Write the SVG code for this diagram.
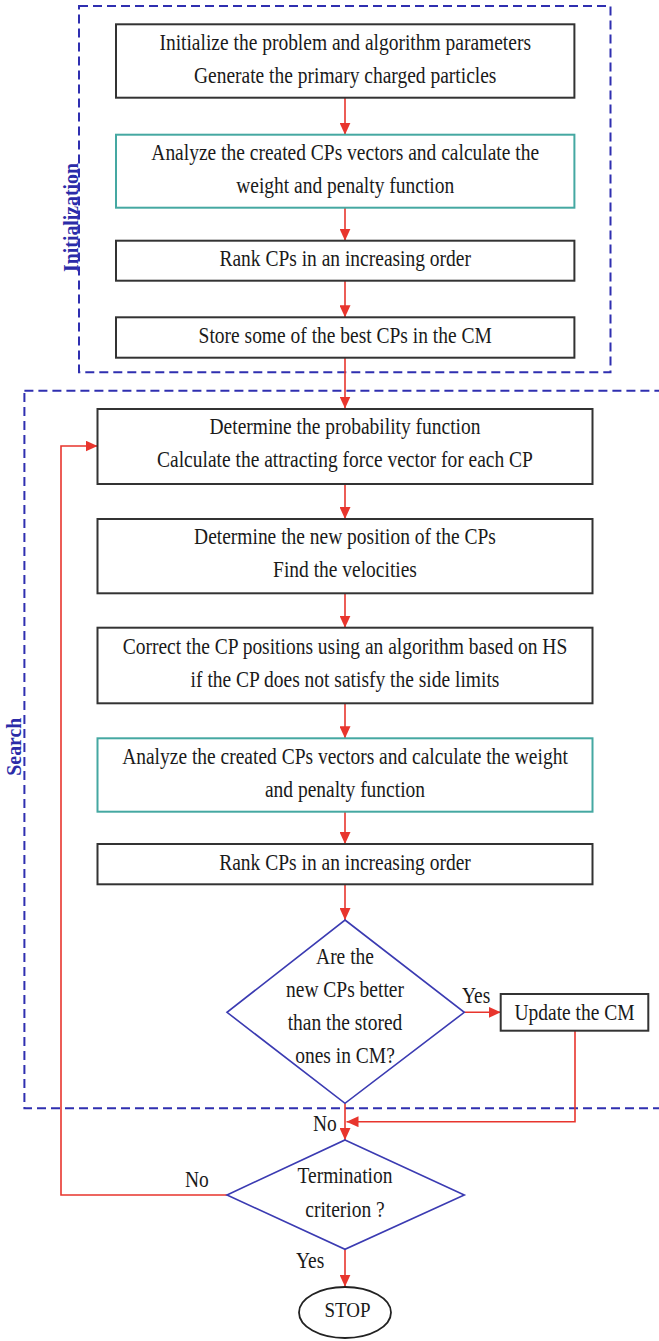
<svg xmlns="http://www.w3.org/2000/svg" width="659" height="1341" viewBox="0 0 659 1341">
<defs>
<style>
.bg{fill:#ffffff}
.box{fill:#ffffff;stroke:#333333;stroke-width:2}
.tbox{fill:#ffffff;stroke:#45a8a2;stroke-width:2}
.dia{fill:#ffffff;stroke:#3b3bb2;stroke-width:1.6}
.grp{fill:none;stroke:#2f2fb0;stroke-width:2;stroke-dasharray:9 5}
.con{fill:none;stroke:#e8352d;stroke-width:1.6}
.t{font-family:"Liberation Serif","Times New Roman",serif;font-size:22.4px;fill:#1a1a1a;text-anchor:middle}
.lbl{font-family:"Liberation Serif","Times New Roman",serif;font-size:22.4px;fill:#1a1a1a}
.glbl{font-family:"Liberation Serif","Times New Roman",serif;font-size:22px;font-weight:bold;fill:#2b2ba8;text-anchor:middle}
</style>
<marker id="arr" markerUnits="userSpaceOnUse" markerWidth="12" markerHeight="11" refX="12" refY="5.5" orient="auto">
<path d="M0,0 L12,5.5 L0,11 z" fill="#e8352d"/>
</marker>
</defs>
<rect class="bg" x="0" y="0" width="659" height="1341"/>

<g id="group-initialization">
<rect class="grp" x="79" y="6" width="531.5" height="366.3"/>
<text class="glbl" transform="translate(77.5,217.5) rotate(-90) scale(0.9,1)">Initialization</text>
</g>
<g id="group-search">
<rect class="grp" x="24.4" y="390.7" width="660" height="717.6"/>
<text class="glbl" transform="translate(20.8,746.7) rotate(-90) scale(0.9,1)">Search</text>
</g>

<g id="connectors">
<line class="con" x1="345" y1="97.7" x2="345" y2="134.7" marker-end="url(#arr)"/>
<line class="con" x1="345" y1="207.7" x2="345" y2="240.7" marker-end="url(#arr)"/>
<line class="con" x1="345" y1="280.7" x2="345" y2="317.3" marker-end="url(#arr)"/>
<line class="con" x1="345" y1="357.7" x2="345" y2="408.5" marker-end="url(#arr)"/>
<line class="con" x1="345" y1="484" x2="345" y2="519" marker-end="url(#arr)"/>
<line class="con" x1="345" y1="593.3" x2="345" y2="627.7" marker-end="url(#arr)"/>
<line class="con" x1="345" y1="703.3" x2="345" y2="738.3" marker-end="url(#arr)"/>
<line class="con" x1="345" y1="811.7" x2="345" y2="844" marker-end="url(#arr)"/>
<line class="con" x1="345" y1="884.3" x2="345" y2="920" marker-end="url(#arr)"/>
<line class="con" x1="464.3" y1="1012.3" x2="500.7" y2="1012.3" marker-end="url(#arr)"/>
<polyline class="con" points="575,1030.7 575,1121.7 346.5,1121.7" marker-end="url(#arr)"/>
<line class="con" x1="345" y1="1103.3" x2="345" y2="1140" marker-end="url(#arr)"/>
<polyline class="con" points="227,1195 61,1195 61,446 97.5,446" marker-end="url(#arr)"/>
<line class="con" x1="345" y1="1249.3" x2="345" y2="1286.7" marker-end="url(#arr)"/>
<text class="lbl" transform="translate(462,1003.3) scale(0.87,1)">Yes</text>
<text class="lbl" transform="translate(313,1131) scale(0.87,1)">No</text>
<text class="lbl" transform="translate(185,1186.7) scale(0.87,1)">No</text>
<text class="lbl" transform="translate(296,1268.3) scale(0.87,1)">Yes</text>
</g>

<g id="n1">
<rect class="box" x="116" y="24.3" width="458.4" height="73.4"/>
<text class="t" transform="translate(345.2,50) scale(0.87,1)">Initialize the problem and algorithm parameters</text>
<text class="t" transform="translate(345.2,83) scale(0.87,1)">Generate the primary charged particles</text>
</g>
<g id="n2">
<rect class="tbox" x="116" y="134.7" width="458.4" height="73"/>
<text class="t" transform="translate(345.2,160) scale(0.87,1)">Analyze the created CPs vectors and calculate the</text>
<text class="t" transform="translate(345.2,192.7) scale(0.87,1)">weight and penalty function</text>
</g>
<g id="n3">
<rect class="box" x="116" y="240.7" width="458.4" height="40"/>
<text class="t" transform="translate(345.2,265.7) scale(0.87,1)">Rank CPs in an increasing order</text>
</g>
<g id="n4">
<rect class="box" x="116" y="317.3" width="458.4" height="40.4"/>
<text class="t" transform="translate(345.2,343.3) scale(0.87,1)">Store some of the best CPs in the CM</text>
</g>
<g id="n5">
<rect class="box" x="97.5" y="409" width="495" height="75"/>
<text class="t" transform="translate(345,434.3) scale(0.87,1)">Determine the probability function</text>
<text class="t" transform="translate(345,467.3) scale(0.87,1)">Calculate the attracting force vector for each CP</text>
</g>
<g id="n6">
<rect class="box" x="97.5" y="519" width="495" height="74.3"/>
<text class="t" transform="translate(345,544) scale(0.87,1)">Determine the new position of the CPs</text>
<text class="t" transform="translate(345,577.3) scale(0.87,1)">Find the velocities</text>
</g>
<g id="n7">
<rect class="box" x="97.5" y="627.7" width="495" height="75.6"/>
<text class="t" transform="translate(345,654) scale(0.87,1)">Correct the CP positions using an algorithm based on HS</text>
<text class="t" transform="translate(345,686.7) scale(0.87,1)">if the CP does not satisfy the side limits</text>
</g>
<g id="n8">
<rect class="tbox" x="97.5" y="738.3" width="495" height="73.4"/>
<text class="t" transform="translate(345,764) scale(0.87,1)">Analyze the created CPs vectors and calculate the weight</text>
<text class="t" transform="translate(345,796.7) scale(0.87,1)">and penalty function</text>
</g>
<g id="n9">
<rect class="box" x="97.5" y="844" width="495" height="40.3"/>
<text class="t" transform="translate(345,870) scale(0.87,1)">Rank CPs in an increasing order</text>
</g>
<g id="d1">
<polygon class="dia" points="345,920 464.3,1012.3 345,1103.3 227,1012.3"/>
<text class="t" transform="translate(345,964) scale(0.87,1)">Are the</text>
<text class="t" transform="translate(345,996.7) scale(0.87,1)">new CPs better</text>
<text class="t" transform="translate(345,1030) scale(0.87,1)">than the stored</text>
<text class="t" transform="translate(345,1062.7) scale(0.87,1)">ones in CM?</text>
</g>
<g id="n10">
<rect class="box" x="500.7" y="994" width="147.6" height="36.7"/>
<text class="t" transform="translate(574.5,1020) scale(0.87,1)">Update the CM</text>
</g>
<g id="d2">
<polygon class="dia" points="345,1140 464.3,1195 345,1249.3 227,1195"/>
<text class="t" transform="translate(345,1183.3) scale(0.87,1)">Termination</text>
<text class="t" transform="translate(345,1216.7) scale(0.87,1)">criterion ?</text>
</g>
<g id="stop">
<ellipse fill="#ffffff" stroke="#222222" stroke-width="1.8" cx="345" cy="1312.5" rx="46" ry="25.5"/>
<text class="t" transform="translate(347.5,1316.7) scale(0.87,1)" style="font-size:21.8px">STOP</text>
</g>
</svg>
